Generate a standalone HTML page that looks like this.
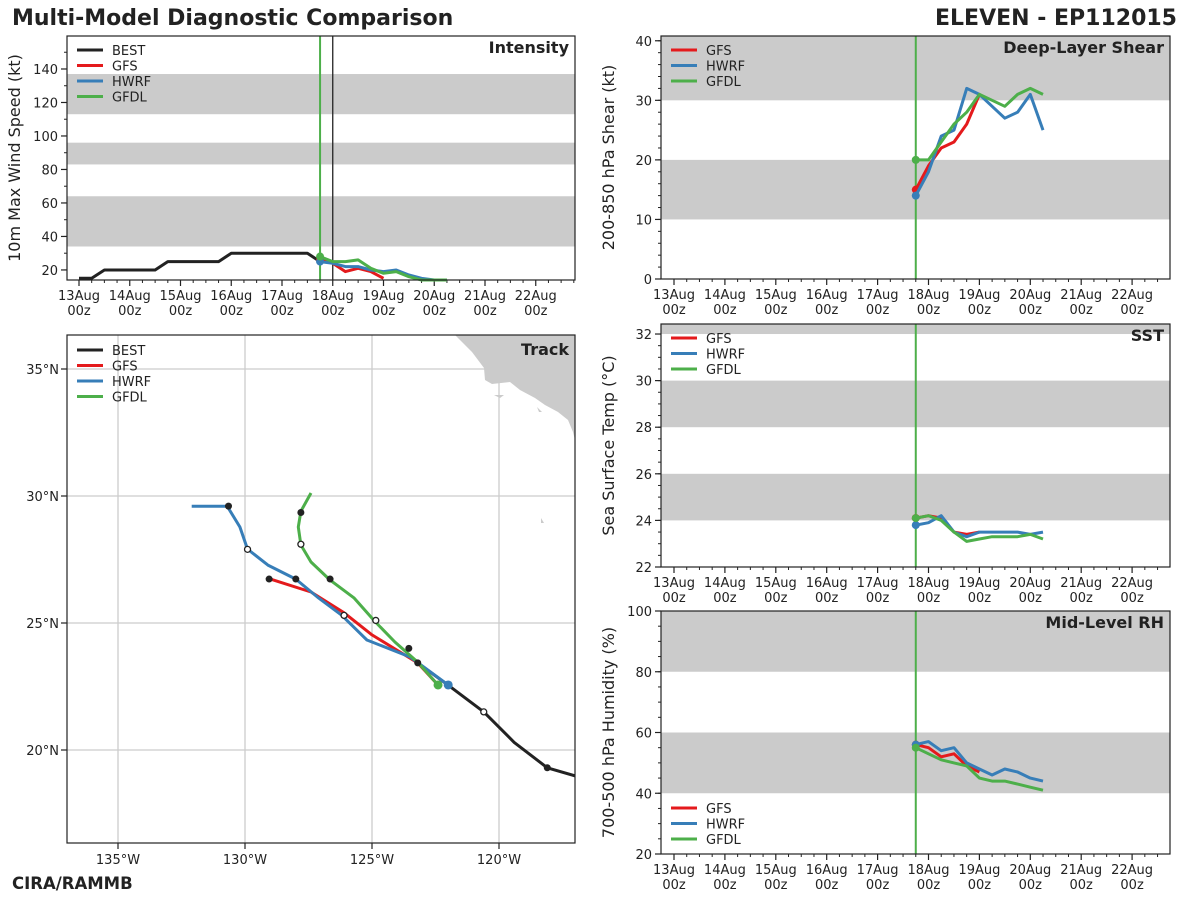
<!DOCTYPE html>
<html><head><meta charset="utf-8"><style>
body{margin:0;background:#fff;}
svg{font-family:"DejaVu Sans","Liberation Sans",sans-serif;}
</style></head><body>
<svg id="c" width="1200" height="900" viewBox="0 0 1200 900">
<text x="12" y="25" font-size="22" font-weight="bold" fill="#222">Multi-Model Diagnostic Comparison</text>
<text x="1177" y="25" font-size="22" font-weight="bold" fill="#222" text-anchor="end">ELEVEN - EP112015</text>
<text x="12" y="889" font-size="16.5" font-weight="bold" fill="#222">CIRA/RAMMB</text>
</svg>
<script>
// ---- data (hours from 13Aug 00z; model series start at 114h, 6h step) ----
const dayLabels = ["13Aug","14Aug","15Aug","16Aug","17Aug","18Aug","19Aug","20Aug","21Aug","22Aug"];
const bestIntensity = [15,15,20,20,20,20,20,25,25,25,25,25,30,30,30,30,30,30,30,25];
const gfsIntensity = [26,24,19,21,19,15];
const hwrfIntensity = [25,24,22,22,20,19,20,17,15,14,14];
const gfdlIntensity = [28,25,25,26,21,18,19,16,14,14,14];
const gfsShear = [15,19,22,23,26,31];
const hwrfShear = [14,18,24,25,32,31,29,27,28,31,25];
const gfdlShear = [20,20,23,26,28,31,30,29,31,32,31];
const gfsSST = [24.1,24.2,24.1,23.5,23.4,23.5];
const hwrfSST = [23.8,23.9,24.2,23.5,23.3,23.5,23.5,23.5,23.5,23.4,23.5];
const gfdlSST = [24.1,24.2,24.0,23.5,23.1,23.2,23.3,23.3,23.3,23.4,23.2];
const gfsRH = [56,55,52,53,49,47];
const hwrfRH = [56,57,54,55,50,48,46,48,47,45,44];
const gfdlRH = [55,53,51,50,49,45,44,44,43,42,41];
const bestLon = [-117,-118.1,-119.4,-120.6,-122.0,-123.2,-123.5];
const bestLat = [18.98,19.3,20.3,21.5,22.55,23.43,23.66];
const hwrfLon = [-122.0,-123.5,-125.2,-126.2,-127.1,-128.0,-129.1,-129.9,-130.2,-130.7,-132.1];
const hwrfLat = [22.56,23.66,24.33,25.31,25.98,26.73,27.28,27.91,28.78,29.6,29.6];
const gfsLon = [-122.4,-123.2,-125.0,-126.1,-127.4,-129.0];
const gfsLat = [22.56,23.43,24.53,25.4,26.22,26.73];
const gfdlLon = [-122.4,-123.2,-124.1,-124.9,-125.7,-126.65,-127.4,-127.8,-127.9,-127.8,-127.4];
const gfdlLat = [22.56,23.46,24.25,25.08,25.98,26.69,27.4,28.07,28.78,29.4,30.12];
const filledLon = [-130.65,-128.0,-129.05,-126.65,-127.8,-123.55,-123.2,-118.1];
const filledLat = [29.6,26.73,26.73,26.73,29.35,24.0,23.43,19.3];
const openLon = [-129.9,-127.8,-126.1,-124.85,-120.6];
const openLat = [27.9,28.1,25.3,25.1,21.5];
const initHour = 114;

const S = document.getElementById('c');
const NS = 'http://www.w3.org/2000/svg';
function el(tag, attrs, parent){const e=document.createElementNS(NS,tag);for(const k in attrs)e.setAttribute(k,attrs[k]);(parent||S).appendChild(e);return e;}
const COL={best:'#222',gfs:'#e41a1c',hwrf:'#377eb8',gfdl:'#4daf4a'};

function timePanel(o){
  const g=el('g',{});
  
  
  const X=h=>o.x0+h*o.pxDay/24;
  const Y=v=>o.top+(o.ymax-v)/(o.ymax-o.ymin)*(o.bot-o.top);
  o.bands.forEach(b=>{const r=el('rect',{x:o.left,y:Y(Math.min(b[1],o.ymax)),width:o.right-o.left,height:Y(b[0])-Y(Math.min(b[1],o.ymax)),fill:'#cbcbcb'},g);
    });
  for(let d=0;d<dayLabels.length;d++){
    const x=X(d*24);
    el('line',{x1:x,x2:x,y1:o.bot,y2:o.bot+6,stroke:'#222','stroke-width':1.2},g);
    for(let k=1;k<4;k++){const xm=X(d*24+k*6);if(xm<o.right)el('line',{x1:xm,x2:xm,y1:o.bot,y2:o.bot+3,stroke:'#222'},g);}
    const t=el('text',{x:x,y:o.bot+20,'font-size':13,'text-anchor':'middle',fill:'#222'},g);t.textContent=dayLabels[d];
    
    const t2=el('text',{x:x,y:o.bot+35,'font-size':13,'text-anchor':'middle',fill:'#222'},g);t2.textContent='00z';
  }
  o.yticks.forEach(v=>{const y=Y(v);el('line',{x1:o.left-6,x2:o.left,y1:y,y2:y,stroke:'#222','stroke-width':1.2},g);
    const t=el('text',{x:o.left-9,y:y+5,'font-size':13,'text-anchor':'end',fill:'#222'},g);t.textContent=v;
    });
  for(let v=o.minorStart;v<=o.ymax;v+=o.minorStep){el('line',{x1:o.left-3,x2:o.left,y1:Y(v),y2:Y(v),stroke:'#222'},g);}
  const yl=el('text',{transform:`translate(${o.left-47},${(o.top+o.bot)/2}) rotate(-90)`,'font-size':16,'text-anchor':'middle',fill:'#222'},g);
  yl.textContent=o.ylabel;
  const xi=X(initHour);
  el('line',{x1:xi,x2:xi,y1:o.top,y2:o.bot,stroke:COL.gfdl,'stroke-width':2},g);
  if(o.blackLine){const xb=X(120);el('line',{x1:xb,x2:xb,y1:o.top,y2:o.bot,stroke:'#222','stroke-width':1.3},g);}
  o.series.forEach(s=>{
    const st=s.start;
    const pts=s.vals.map((v,i)=>X(st+i*6).toFixed(1)+','+Y(v).toFixed(1)).join(' ');
    const p=el('polyline',{points:pts,fill:'none',stroke:COL[s.k],'stroke-width':3,'stroke-linejoin':'round'},g);
    
    if(s.k!=='best'){el('circle',{cx:X(st),cy:Y(s.vals[0]),r:4,fill:COL[s.k]},g);}
  });
  el('rect',{x:o.left,y:o.top,width:o.right-o.left,height:o.bot-o.top,fill:'none',stroke:'#222','stroke-width':1.2},g);
  const tt=el('text',{x:o.right-6,y:o.top+17,'font-size':16,'font-weight':'bold','text-anchor':'end',fill:'#222'},g);
  tt.textContent=o.title;
  legend(g,o.left+10,o.legendY,o.series.map(s=>s.k));
}
function legend(g,x,y,keys){
  const names={best:'BEST',gfs:'GFS',hwrf:'HWRF',gfdl:'GFDL'};
  keys.forEach((k,i)=>{const yy=y+i*15.5;
    const l=el('line',{x1:x,x2:x+26,y1:yy,y2:yy,stroke:COL[k],'stroke-width':3},g);
    
    const t=el('text',{x:x+35,y:yy+5,'font-size':13,fill:'#222'},g);t.textContent=names[k];
    });
}
timePanel({name:'intensity-panel',left:67,right:575,top:36,bot:280,x0:79,pxDay:50.75,ymin:14,ymax:159.7,
  bands:[[34,64],[83,96],[113,137]],yticks:[20,40,60,80,100,120,140],minorStart:20,minorStep:10,ylabel:'10m Max Wind Speed (kt)',
  title:'Intensity',blackLine:true,legendY:50,
  series:[{k:'best',vals:bestIntensity,start:0},{k:'gfs',vals:gfsIntensity,start:114},{k:'hwrf',vals:hwrfIntensity,start:114},{k:'gfdl',vals:gfdlIntensity,start:114}]});
timePanel({name:'shear-panel',left:661,right:1170,top:36,bot:279,x0:674,pxDay:50.9,ymin:0,ymax:40.8,
  bands:[[10,20],[30,40.8]],yticks:[0,10,20,30,40],minorStart:0,minorStep:2,ylabel:'200-850 hPa Shear (kt)',
  title:'Deep-Layer Shear',legendY:50,
  series:[{k:'gfs',vals:gfsShear,start:114},{k:'hwrf',vals:hwrfShear,start:114},{k:'gfdl',vals:gfdlShear,start:114}]});
timePanel({name:'sst-panel',left:661,right:1170,top:324,bot:567,x0:674,pxDay:50.9,ymin:22,ymax:32.43,
  bands:[[24,26],[28,30],[32,32.43]],yticks:[22,24,26,28,30,32],minorStart:22,minorStep:0.5,ylabel:'Sea Surface Temp (°C)',
  title:'SST',legendY:338,
  series:[{k:'gfs',vals:gfsSST,start:114},{k:'hwrf',vals:hwrfSST,start:114},{k:'gfdl',vals:gfdlSST,start:114}]});
timePanel({name:'rh-panel',left:661,right:1170,top:611,bot:854,x0:674,pxDay:50.9,ymin:20,ymax:100,
  bands:[[40,60],[80,100]],yticks:[20,40,60,80,100],minorStart:20,minorStep:5,ylabel:'700-500 hPa Humidity (%)',
  title:'Mid-Level RH',legendY:808,
  series:[{k:'gfs',vals:gfsRH,start:114},{k:'hwrf',vals:hwrfRH,start:114},{k:'gfdl',vals:gfdlRH,start:114}]});

(function(){
  const g=el('g',{});
  
  
  const L=67,R=575,T=335,B=843;
  const X=lon=>118+(lon+135)*25.4, Y=lat=>369-(lat-35)*25.4;
  const cp=el('clipPath',{id:'tc'},g);el('rect',{x:L,y:T,width:R-L,height:B-T},cp);
  const inner=el('g',{'clip-path':'url(#tc)'},g);
  [-135,-130,-125,-120].forEach(lon=>el('line',{x1:X(lon),x2:X(lon),y1:T,y2:B,stroke:'#ccc','stroke-width':1.3},inner));
  [35,30,25,20].forEach(lat=>el('line',{x1:L,x2:R,y1:Y(lat),y2:Y(lat),stroke:'#ccc','stroke-width':1.3},inner));
  const land=el('path',{d:'M455,335 L465,345 L472,352 L478,360 L484,368 L485,380 L492,384 L510,382 L520,390 L535,398 L545,405 L558,412 L568,420 L573,432 L575,440 L575,335 Z',fill:'#cbcbcb'},inner);
  
  el('path',{d:'M494,395 l10,0 l-4,3 z M537,407 l5,5 l-3,0 z M541,518 l3,5 l-3,0 z',fill:'#cbcbcb'},inner);
  function track(k,lons,lats){const pts=lons.map((v,i)=>X(v).toFixed(1)+','+Y(lats[i]).toFixed(1)).join(' ');
    const p=el('polyline',{points:pts,fill:'none',stroke:COL[k],'stroke-width':3,'stroke-linejoin':'round'},inner);
    }
  track('best',bestLon,bestLat);track('gfs',gfsLon,gfsLat);track('hwrf',hwrfLon,hwrfLat);track('gfdl',gfdlLon,gfdlLat);
  el('circle',{cx:X(hwrfLon[0]),cy:Y(hwrfLat[0]),r:4.5,fill:COL.hwrf},inner);
  el('circle',{cx:X(gfdlLon[0]),cy:Y(gfdlLat[0]),r:4.5,fill:COL.gfdl},inner);
  filledLon.forEach((v,i)=>{const c=el('circle',{cx:X(v),cy:Y(filledLat[i]),r:3.5,fill:'#222'},inner);
    });
  openLon.forEach((v,i)=>{const c=el('circle',{cx:X(v),cy:Y(openLat[i]),r:3,fill:'#fff',stroke:'#222','stroke-width':1.3},inner);
    });
  [-120,-125,-130,-135].forEach(lon=>{const x=X(lon);el('line',{x1:x,x2:x,y1:B,y2:B+6,stroke:'#222','stroke-width':1.2},g);
    const t=el('text',{x:x,y:B+21,'font-size':13,'text-anchor':'middle',fill:'#222'},g);t.textContent=(-lon)+'°W';
    });
  [20,25,30,35].forEach(lat=>{const y=Y(lat);el('line',{x1:L-6,x2:L,y1:y,y2:y,stroke:'#222','stroke-width':1.2},g);
    const t=el('text',{x:L-8,y:y+5,'font-size':13,'text-anchor':'end',fill:'#222'},g);t.textContent=lat+'°N';
    });
  el('rect',{x:L,y:T,width:R-L,height:B-T,fill:'none',stroke:'#222','stroke-width':1.2},g);
  const tt=el('text',{x:R-6,y:T+20,'font-size':16,'font-weight':'bold','text-anchor':'end',fill:'#222'},g);tt.textContent='Track';
  
  legend(g,L+10,T+15,['best','gfs','hwrf','gfdl']);
})();
</script>
</body></html>
